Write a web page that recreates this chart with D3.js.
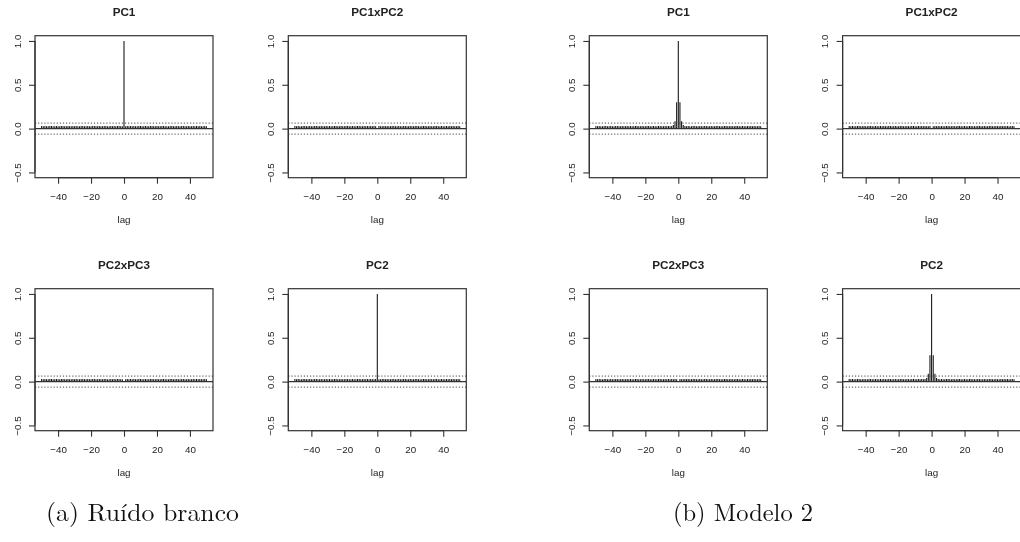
<!DOCTYPE html>
<html>
<head>
<meta charset="utf-8">
<script src="https://cdn.jsdelivr.net/npm/d3@7"></script>
<style>
  html, body { margin: 0; padding: 0; background: #fff; }
  svg { display: block; filter: grayscale(100%); }
  text { font-family: "Liberation Sans", Arial, Helvetica, sans-serif; fill: #222; }
  .caption { font-family: "Latin Modern Roman", "CMU Serif", "Liberation Serif", "DejaVu Serif", serif; fill: #111; }
</style>
</head>
<body>
<svg id="chart" width="1020" height="542"></svg>
<script>
// Cross-correlation plots of principal components, lags -50..50
const maxLag = 50;
const xTicks = [-40, -20, 0, 20, 40];
const yTicks = [-0.5, 0, 0.5, 1.0];
const ciBound = 0.063;

// Sample correlations for lags -50..50 away from the centre
const noiseAcf = [
  0.029, 0.027, 0.030, 0.028, 0.026, 0.029, 0.030, 0.027, 0.028, 0.029,
  0.026, 0.028, 0.030, 0.029, 0.027, 0.028, 0.029, 0.026, 0.028, 0.030,
  0.027, 0.029, 0.028, 0.026, 0.029, 0.030, 0.028, 0.027, 0.029, 0.028,
  0.026, 0.029, 0.030, 0.027, 0.028, 0.029, 0.027, 0.028, 0.030, 0.029,
  0.026, 0.028, 0.029, 0.027, 0.030, 0.028, 0.029, 0.027, 0.028, 0.029,
  0.028,
  0.029, 0.027, 0.028, 0.030, 0.026, 0.029, 0.028, 0.027, 0.029, 0.030,
  0.028, 0.026, 0.029, 0.028, 0.027, 0.030, 0.029, 0.028, 0.026, 0.029,
  0.027, 0.028, 0.030, 0.029, 0.027, 0.028, 0.026, 0.029, 0.030, 0.028,
  0.027, 0.029, 0.028, 0.026, 0.030, 0.029, 0.027, 0.028, 0.029, 0.028,
  0.026, 0.029, 0.028, 0.030, 0.027, 0.029, 0.028, 0.027, 0.029, 0.028
];

// Correlations at the central lags
const centerLags = [-3, -2, -1, 0, 1, 2, 3];
const wnPC1     = [0.029, 0.028, 0.027, 1.00, 0.028, 0.029, 0.027];
const wnPC1xPC2 = [0.028, 0.029, 0.027, 0.00, 0.029, 0.028, 0.027];
const wnPC2xPC3 = [0.029, 0.027, 0.028, 0.00, 0.028, 0.029, 0.028];
const wnPC2     = [0.028, 0.027, 0.029, 1.00, 0.027, 0.028, 0.029];
const m2PC1     = [0.040, 0.085, 0.30, 1.00, 0.30, 0.085, 0.040];
const m2PC1xPC2 = [0.028, 0.027, 0.029, 0.00, 0.028, 0.029, 0.027];
const m2PC2xPC3 = [0.027, 0.029, 0.028, 0.00, 0.029, 0.027, 0.028];
const m2PC2     = [0.040, 0.090, 0.30, 1.00, 0.30, 0.090, 0.040];

const panelTitles = ["PC1", "PC1xPC2", "PC2xPC3", "PC2"];
const groups = [
  { caption: "(a) Ruído branco", centre: [wnPC1, wnPC1xPC2, wnPC2xPC3, wnPC2] },
  { caption: "(b) Modelo 2",     centre: [m2PC1, m2PC1xPC2, m2PC2xPC3, m2PC2] }
];

// Layout of the plotting regions
const plotW = 178, plotH = 142;
const groupX = [35, 589.3];
const colStep = 253.3, rowStep = 253;
const top0 = 35.7;
const captionX = [46, 673];
const captionW = [193, 140];
const captionY = 521;

const svg = d3.select("#chart");

function seriesFor(centre) {
  const lags = d3.range(-maxLag, maxLag + 1);
  return lags.map((lag, i) => {
    const k = centerLags.indexOf(lag);
    return { lag, value: k >= 0 ? centre[k] : noiseAcf[i] };
  });
}

const fmtY = v => d3.format(".1f")(v).replace("-", "\u2212");
const fmtX = v => String(v).replace("-", "\u2212");

function drawPanel(x0, y0, title, data) {
  const x = d3.scaleLinear().domain([-54, 54]).range([x0, x0 + plotW]);
  const y = d3.scaleLinear().domain([-0.56, 1.06]).range([y0 + plotH, y0]);
  const g = svg.append("g");

  // correlation bars
  g.append("g").selectAll("line").data(data).join("line")
    .attr("x1", d => x(d.lag)).attr("x2", d => x(d.lag))
    .attr("y1", y(0)).attr("y2", d => y(d.value))
    .attr("stroke", "#111").attr("stroke-width", 1.05);

  // zero line
  g.append("line")
    .attr("x1", x0).attr("x2", x0 + plotW)
    .attr("y1", y(0)).attr("y2", y(0))
    .attr("stroke", "#333").attr("stroke-width", 1.2);

  // confidence bounds
  [ciBound, -ciBound].forEach(b => {
    g.append("line")
      .attr("x1", x0).attr("x2", x0 + plotW)
      .attr("y1", y(b)).attr("y2", y(b))
      .attr("stroke", "#444").attr("stroke-width", 1)
      .attr("stroke-dasharray", "1.2,1.9");
  });

  // box
  g.append("rect")
    .attr("x", x0).attr("y", y0).attr("width", plotW).attr("height", plotH)
    .attr("fill", "none").attr("stroke", "#333").attr("stroke-width", 1.2);

  // x axis
  const xa = g.append("g").attr("transform", `translate(0,${y0 + plotH})`)
    .call(d3.axisBottom(x).tickValues(xTicks).tickSize(6).tickPadding(0).tickFormat(fmtX));
  xa.select(".domain").attr("d", `M${x(xTicks[0])},0H${x(xTicks[xTicks.length - 1])}`)
    .attr("stroke", "#333").attr("stroke-width", 1.2);
  xa.selectAll(".tick line").attr("stroke", "#333").attr("stroke-width", 1.1);
  xa.selectAll(".tick text").attr("y", 22.3).attr("dy", null)
    .style("font-size", "9.8px").style("font-family", "Liberation Sans, Arial, sans-serif")
    .attr("fill", "#222");

  // y axis
  const ya = g.append("g").attr("transform", `translate(${x0},0)`)
    .call(d3.axisLeft(y).tickValues(yTicks).tickSize(6).tickFormat(fmtY));
  ya.select(".domain").attr("d", `M0,${y(yTicks[0])}V${y(yTicks[yTicks.length - 1])}`)
    .attr("stroke", "#333").attr("stroke-width", 1.2);
  ya.selectAll(".tick line").attr("stroke", "#333").attr("stroke-width", 1.1);
  ya.selectAll(".tick text")
    .attr("x", null).attr("dy", null)
    .attr("text-anchor", "middle")
    .attr("transform", "translate(-14.3,0) rotate(-90)")
    .style("font-size", "9.8px").style("font-family", "Liberation Sans, Arial, sans-serif")
    .attr("fill", "#222");

  // title and axis label
  g.append("text")
    .attr("x", x0 + plotW / 2).attr("y", y0 - 19.7)
    .attr("text-anchor", "middle")
    .style("font-size", "11.7px").style("font-weight", "bold")
    .text(title);
  g.append("text")
    .attr("x", x0 + plotW / 2).attr("y", y0 + plotH + 45)
    .attr("text-anchor", "middle")
    .style("font-size", "9.8px")
    .text("lag");
}

groups.forEach((grp, gi) => {
  grp.centre.forEach((centre, pi) => {
    const col = pi % 2, row = Math.floor(pi / 2);
    drawPanel(groupX[gi] + col * colStep, top0 + row * rowStep, panelTitles[pi], seriesFor(centre));
  });
  svg.append("text").attr("class", "caption")
    .attr("x", captionX[gi]).attr("y", captionY)
    .attr("textLength", captionW[gi]).attr("lengthAdjust", "spacingAndGlyphs")
    .style("font-size", "25px")
    .text(grp.caption);
});
</script>
</body>
</html>
